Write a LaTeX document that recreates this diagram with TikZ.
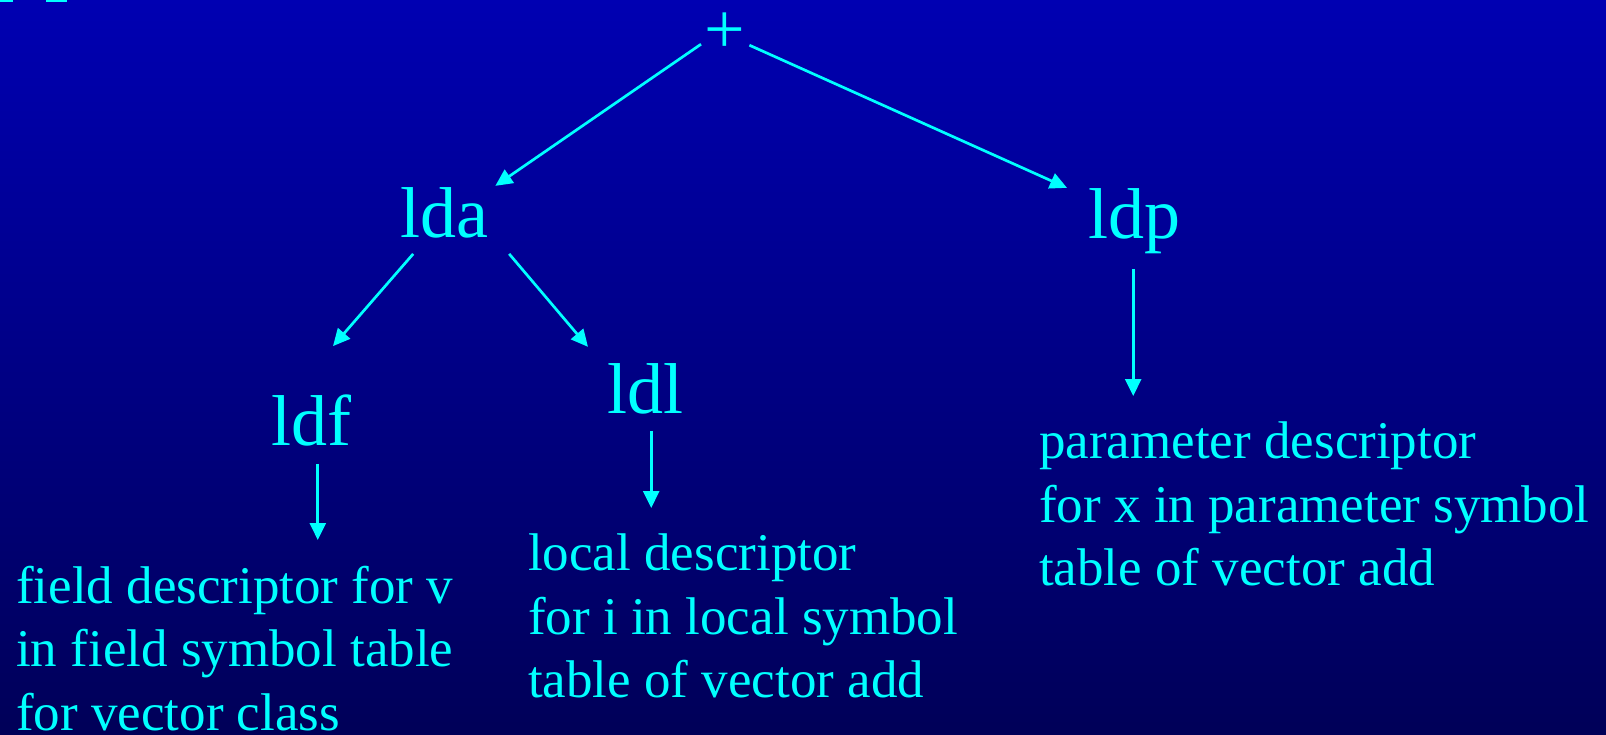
\documentclass[tikz,border=0pt]{standalone}
\usepackage{fontspec}
\setmainfont{Liberation Serif}
\usetikzlibrary{arrows.meta}
\definecolor{bgtop}{RGB}{0,0,178}
\definecolor{bgbot}{RGB}{0,0,88}
\definecolor{fg}{RGB}{0,255,255}
\begin{document}
\begin{tikzpicture}[x=1pt,y=-1pt,
  big/.style={inner sep=0pt,anchor=base west,text=fg,font=\fontsize{72}{86}\selectfont},
  desc/.style={inner sep=0pt,anchor=north west,text=fg,align=left,font=\fontsize{53}{63.5}\selectfont},
  arr/.style={draw=fg,line width=2.7pt,-{Triangle[length=17pt,width=16pt]}}]
\useasboundingbox (0,0) rectangle (1606,734);
\shade[top color=bgtop,bottom color=bgbot] (0,0) rectangle (1606,734);
\fill[fg] (0,0) rectangle (13,2.3);
\fill[fg] (46,0) rectangle (67,2.3);
% nodes
\node[big] (plus) at (704,53) {+};
\node[big] (lda) at (400.6,237) {lda};
\node[big] (ldp) at (1088.6,238) {ldp};
\node[big] (ldf) at (271.6,445) {ldf};
\node[big] (ldl) at (607.6,413) {ldl};
\node[desc] (tf) at (16,565.8) {field descriptor for v\\in field symbol table\\for vector class};
\node[desc] (tl) at (528,533.8) {local descriptor\\for i in local symbol\\table of vector add};
\node[desc] (tp) at (1039,421.8) {parameter descriptor\\for x in parameter symbol\\table of vector add};
% connectors
\draw[arr] ([shift={(-3,-9)}]plus.south west) -- ([shift={(6.4,-1)}]lda.north east);
\draw[arr] ([shift={(4.4,-8)}]plus.south east) -- ([shift={(-21.6,0)}]ldp.north west);
\draw[arr] ([shift={(-31.6,16)}]lda.south) -- ([shift={(61.4,-48)}]ldf.north west);
\draw[arr] ([shift={(64.4,16)}]lda.south) -- ([shift={(-19.6,-16)}]ldl.north west);
\draw[arr,shorten <=18pt,shorten >=25.8pt] ([shift={(6,0)}]ldf.south) -- ([shift={(6,0)}]ldf.south |- tf.north);
\draw[arr,shorten <=17pt,shorten >=25.8pt] ([shift={(5.4,0)}]ldl.south) -- ([shift={(5.4,0)}]ldl.south |- tl.north);
\draw[arr,shorten <=15.4pt,shorten >=25.8pt] ([shift={(-1.6,0)}]ldp.south) -- ([shift={(-1.6,0)}]ldp.south |- tp.north);
\end{tikzpicture}
\end{document}
